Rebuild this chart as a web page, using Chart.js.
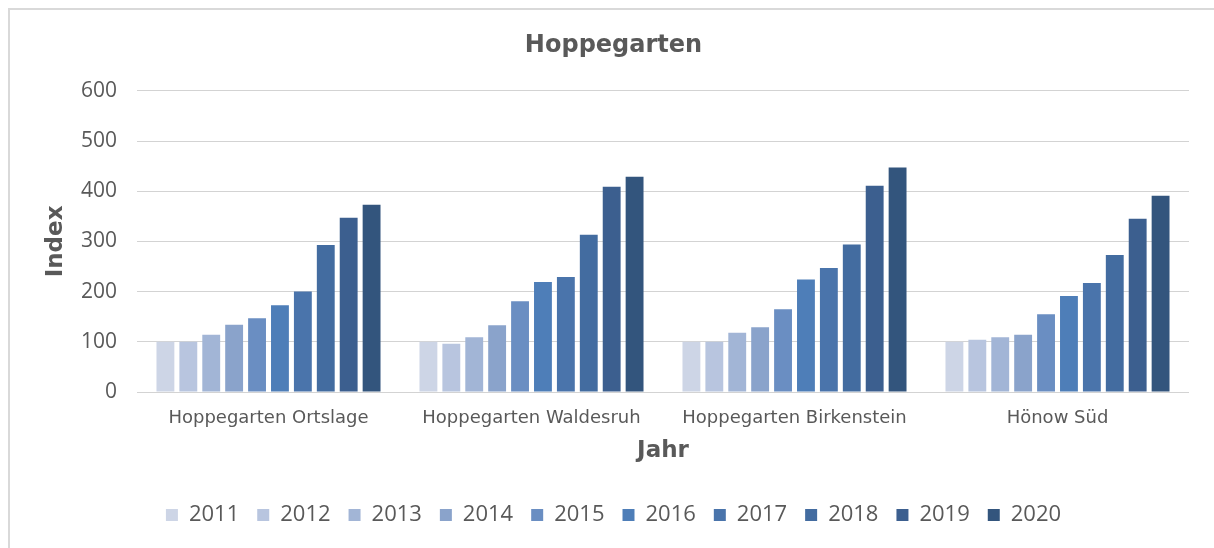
<!DOCTYPE html>
<html>
<head>
<meta charset="utf-8">
<title>Hoppegarten</title>
<script src="https://cdn.jsdelivr.net/npm/chart.js@4.4.0/dist/chart.umd.min.js"></script>
<style>
    html, body { margin: 0; padding: 0; background: #fff; overflow: hidden; }
    .frame { position: absolute; left: 8px; top: 8px; width: 1300px; height: 700px; border: 2px solid #d9d9d9; }
    .wrap { position: absolute; left: 0; top: 0; width: 1214px; height: 548px; }
</style>
</head>
<body>
<div class="frame"></div>
<div class="wrap"><canvas id="indexChart" width="1214" height="548"></canvas></div>
<script>
// Kategorien (Ortsteile)
var categories = ["Hoppegarten Ortslage", "Hoppegarten Waldesruh", "Hoppegarten Birkenstein", "Hönow Süd"];

// Jahre = Datenreihen
var years = ["2011", "2012", "2013", "2014", "2015", "2016", "2017", "2018", "2019", "2020"];

// Indexwerte je Jahr (Reihenfolge wie categories)
var v2011 = [100, 100, 100, 100];
var v2012 = [100, 96, 100, 104];
var v2013 = [114, 109, 118, 109];
var v2014 = [134, 133, 129, 114];
var v2015 = [147, 181, 165, 155];
var v2016 = [173, 219, 224, 191];
var v2017 = [200, 229, 247, 217];
var v2018 = [293, 313, 294, 273];
var v2019 = [347, 409, 411, 345];
var v2020 = [373, 429, 447, 391];

// y-Achse
var yTicks = [0, 100, 200, 300, 400, 500, 600];

var values = [v2011, v2012, v2013, v2014, v2015, v2016, v2017, v2018, v2019, v2020];
var colors = ["#cdd5e6", "#b8c5df", "#a2b5d6", "#8aa3cb", "#6a8ec2",
              "#4e7eb8", "#4a74ab", "#436ca0", "#3c5f8f", "#33557d"];

var grey = "#595959";

var datasets = [];
for (var i = 0; i < years.length; i++) {
    datasets.push({
        label: years[i],
        data: values[i],
        backgroundColor: colors[i],
        borderWidth: 0,
        categoryPercentage: 0.871,
        barPercentage: 0.78
    });
}

var ctx = document.getElementById("indexChart").getContext("2d");

new Chart(ctx, {
    type: "bar",
    data: { labels: categories, datasets: datasets },
    options: {
        responsive: false,
        animation: false,
        layout: { padding: { left: 38, right: 25, top: 0, bottom: 12 } },
        plugins: {
            tooltip: { enabled: false },
            title: {
                display: true,
                text: "Hoppegarten",
                color: grey,
                font: { family: "DejaVu Sans", size: 24, weight: "bold" },
                padding: { top: 31, bottom: 31 }
            },
            legend: {
                position: "bottom",
                labels: {
                    color: grey,
                    font: { family: "Open Sans", size: 22 },
                    boxWidth: 12,
                    boxHeight: 12,
                    padding: 18
                }
            }
        },
        scales: {
            x: {
                grid: { display: false },
                border: { display: false },
                ticks: {
                    color: grey,
                    font: { family: "DejaVu Sans", size: 18 },
                    padding: 8,
                    maxRotation: 0
                },
                title: {
                    display: true,
                    text: "Jahr",
                    color: grey,
                    font: { family: "DejaVu Sans", size: 23, weight: "bold" },
                    padding: { top: 4, bottom: 21 }
                },
                afterFit: function(scale) { scale.height = 94; }
            },
            y: {
                min: yTicks[0],
                max: yTicks[yTicks.length - 1],
                grid: { color: "#d3d3d3", lineWidth: 1, drawTicks: false },
                border: { display: false },
                ticks: {
                    stepSize: yTicks[1] - yTicks[0],
                    color: grey,
                    font: { family: "Open Sans", size: 21 },
                    padding: 20
                },
                title: {
                    display: true,
                    text: "Index",
                    color: grey,
                    font: { family: "DejaVu Sans", size: 23, weight: "bold" },
                    padding: { top: 4, bottom: 4 }
                },
                afterFit: function(scale) { scale.width = 99; }
            }
        }
    }
});
</script>
</body>
</html>
